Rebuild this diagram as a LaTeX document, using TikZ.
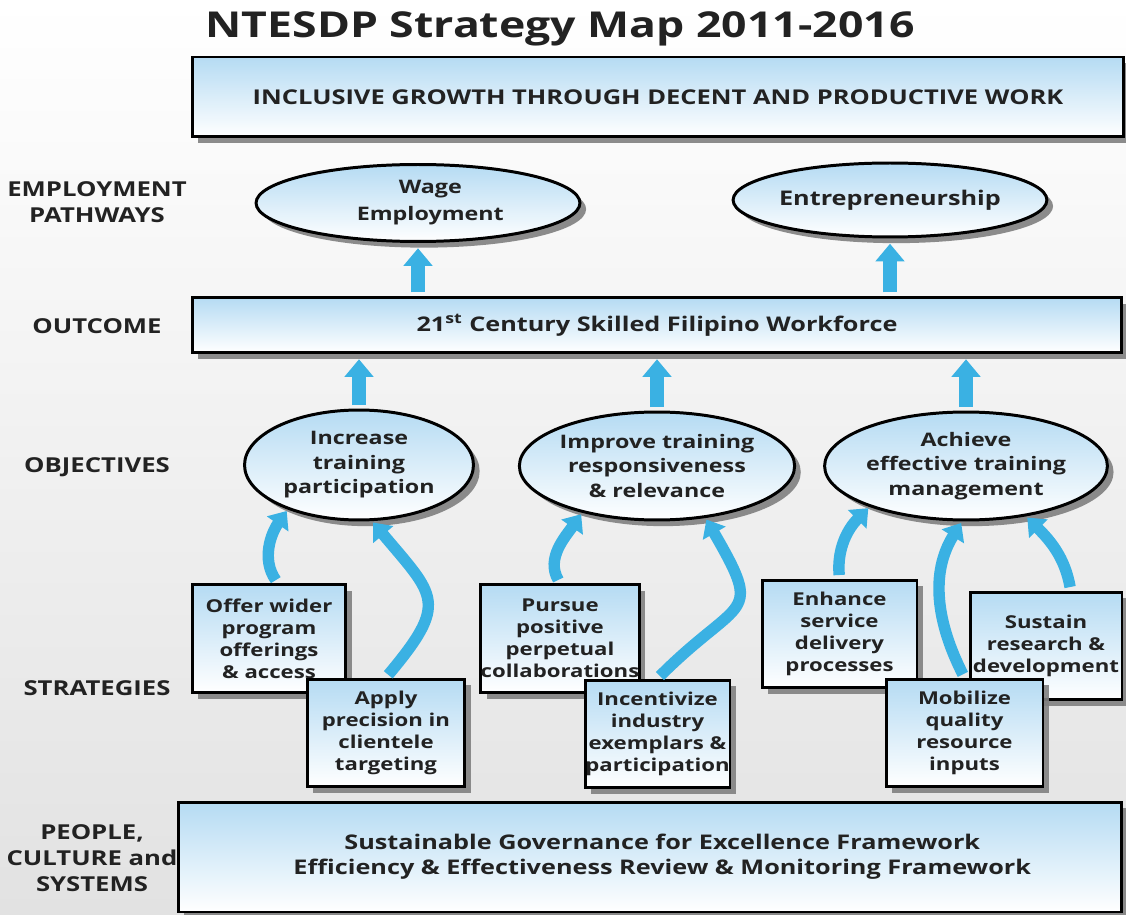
\documentclass[tikz,border=0pt]{standalone}
\usepackage{fontspec}
\setmainfont{Open Sans}[FakeStretch=1.25]
\usepackage{tikz}
\usetikzlibrary{shapes.geometric, arrows.meta, shadows}
\definecolor{boxblue}{HTML}{B5DBF3}
\definecolor{flowblue}{HTML}{3AB1E3}
\definecolor{bggray}{HTML}{E2E2E2}
\definecolor{ink}{HTML}{222222}
\tikzstyle{panel} = [draw=black, line width=1.7pt, top color=boxblue, bottom color=white, drop shadow={shadow xshift=3.5pt, shadow yshift=-3.5pt, fill=black!50, opacity=0.9}, align=center, text=ink, inner sep=0pt]
\tikzstyle{oval} = [panel, ellipse]
\tikzstyle{stratbox} = [panel, minimum height=2.16cm, font=\fontsize{10.1}{12.5}\selectfont\bfseries]
\tikzstyle{rowlabel} = [align=center, text=ink, font=\fontsize{11.7}{15}\selectfont\bfseries]
\tikzstyle{uparrow} = [line width=8pt, draw=flowblue, -{Triangle[width=16pt,length=10pt]}, shorten <=2pt, shorten >=3pt]
\tikzstyle{curvearrow} = [line width=6.5pt, draw=flowblue, -{Triangle[width=14.5pt,length=9pt]}, shorten <=2pt, shorten >=1pt]

\begin{document}
\begin{tikzpicture}[x=0.02cm, y=0.02cm]
  \useasboundingbox (0,0) rectangle (1126,914);
  \fill[top color=white, bottom color=bggray] (0,0) rectangle (1126,914);

  \node[anchor=base, text=ink, font=\fontsize{20.3}{24}\selectfont\bfseries] (title) at (560,876) {NTESDP Strategy Map 2011-2016};
  \node[panel, minimum width=18.64cm, minimum height=1.6cm, font=\fontsize{11.6}{14}\selectfont\bfseries] (goal) at (658,817) {INCLUSIVE GROWTH THROUGH DECENT AND PRODUCTIVE WORK};

  % row labels
  \node[rowlabel] (lblpath) at (97,712) {EMPLOYMENT\\PATHWAYS};
  \node[rowlabel] (lblout) at (97,588) {OUTCOME};
  \node[rowlabel] (lblobj) at (97,447) {OBJECTIVES};
  \node[rowlabel] (lblstr) at (97,226) {STRATEGIES};
  \node[rowlabel] (lblppl) at (92,56) {PEOPLE,\\CULTURE and\\SYSTEMS};

  % pathways and outcome
  \node[oval, minimum width=6.48cm, minimum height=1.54cm, font=\fontsize{10.6}{15.3}\selectfont\bfseries] (wage) at (418,711) {\hspace*{14pt}Wage\\\hspace*{14pt}Employment};
  \node[oval, minimum width=6.2cm, minimum height=1.48cm, font=\fontsize{11.5}{15}\selectfont\bfseries] (entre) at (890,714) {Entrepreneurship};
  \node[panel, minimum width=18.6cm, minimum height=1.1cm, font=\fontsize{11.5}{14}\selectfont\bfseries] (outcome) at (657,589) {21\textsuperscript{st} Century Skilled Filipino Workforce};

  % objectives
  \node[oval, minimum width=4.58cm, minimum height=2.2cm, font=\fontsize{10.6}{13.9}\selectfont\bfseries] (objpart) at (359,449) {Increase\\training\\participation};
  \node[oval, minimum width=4.7cm, minimum height=2.16cm, font=\fontsize{10.6}{13.9}\selectfont\bfseries] (objresp) at (657,448) {Improve training\\responsiveness\\\& relevance};
  \node[oval, minimum width=4.66cm, minimum height=2.16cm, font=\fontsize{10.6}{13.9}\selectfont\bfseries] (objmgmt) at (966,448) {Achieve\\effective training\\management};

  % strategies
  \node[stratbox, minimum width=3.08cm] (offer) at (269,275.5) {Offer wider\\program\\offerings\\\& access};
  \node[stratbox, minimum width=3.16cm] (apply) at (386,181) {Apply\\precision in\\clientele\\targeting};
  \node[stratbox, minimum width=3.08cm] (pursue) at (560,275.5) {Pursue\\positive\\perpetual\\collaborations};
  \node[stratbox, minimum width=2.9cm] (incent) at (657.5,180) {Incentivize\\industry\\exemplars \&\\participation};
  \node[stratbox, minimum width=3.1cm] (enhance) at (839.5,280) {Enhance\\service\\delivery\\processes};
  \node[stratbox, minimum width=3.04cm] (sustain) at (1046,268) {Sustain\\research \&\\development};
  \node[stratbox, minimum width=3.14cm] (mobil) at (964.5,181) {Mobilize\\quality\\resource\\inputs};

  \node[panel, minimum width=18.88cm, minimum height=2.2cm, font=\fontsize{11.5}{14.2}\selectfont\bfseries] (people) at (650,57) {\hspace*{14pt}Sustainable Governance for Excellence Framework\\\hspace*{14pt}Efficiency \& Effectiveness Review \& Monitoring Framework};

  % arrows
  \draw[uparrow] (outcome.north -| wage.south) -- (wage.south);
  \draw[uparrow] (outcome.north -| entre.south) -- (entre.south);
  \draw[uparrow] (objpart.north) -- (objpart.north |- outcome.south);
  \draw[uparrow] (objresp.north) -- (objresp.north |- outcome.south);
  \draw[uparrow] (objmgmt.north) -- (objmgmt.north |- outcome.south);

  \draw[curvearrow] (offer.81) to[out=125, in=235] (objpart.212);
  \draw[curvearrow] (apply.north) to[out=50, in=-50, looseness=1.6] (objpart.283);
  \draw[curvearrow] (pursue.north) to[out=120, in=235] (objresp.212);
  \draw[curvearrow] (incent.north) to[out=45, in=-60, looseness=1.8] (objresp.313);
  \draw[curvearrow] (enhance.north) to[out=95, in=225] (objmgmt.203);
  \draw[curvearrow] (mobil.north) to[out=117, in=-122] (objmgmt.266);
  \draw[curvearrow] (sustain.66) to[out=100, in=-45] (objmgmt.320);
\end{tikzpicture}
\end{document}
